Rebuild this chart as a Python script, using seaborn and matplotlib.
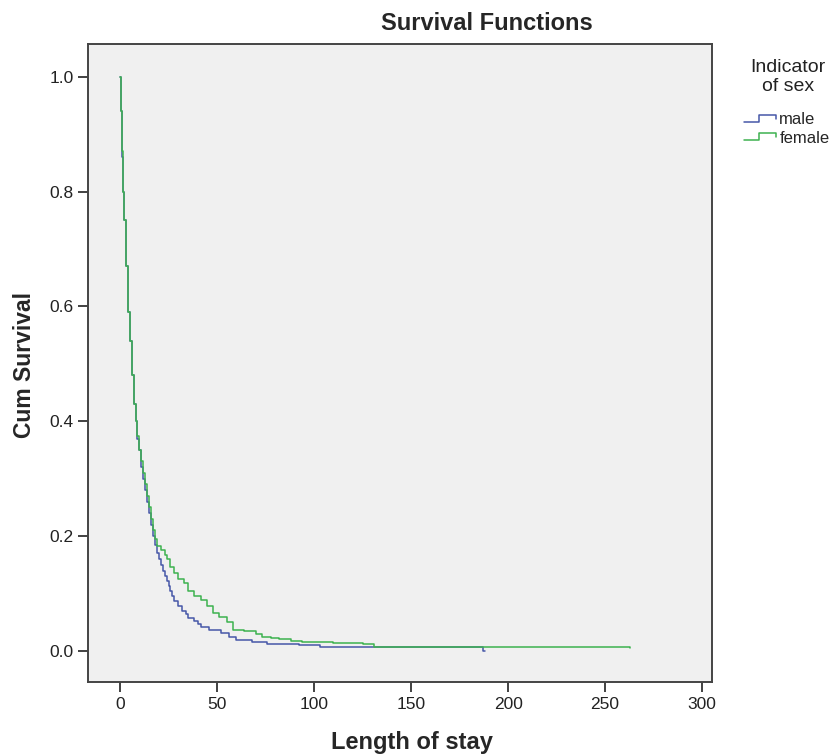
import numpy as np
import pandas as pd
import seaborn as sns
import matplotlib
matplotlib.use("Agg")
import matplotlib.pyplot as plt
from matplotlib.lines import Line2D
from matplotlib.legend_handler import HandlerLine2D

# Kaplan-Meier step values
male_time = [0, 0.5, 1, 1.5, 2, 3, 4, 5, 6, 7, 8, 9, 10, 11, 12, 13, 14, 15, 16,
             17, 18, 19, 20, 21, 22, 23, 24, 25, 26, 27, 28, 30, 32, 34, 35, 38,
             40, 42, 46, 52, 56, 60, 68, 76, 92, 103, 187, 188]
male_surv = [1.0, 0.94, 0.86, 0.80, 0.75, 0.67, 0.59, 0.54, 0.48, 0.43, 0.40,
             0.37, 0.35, 0.32, 0.30, 0.28, 0.26, 0.24, 0.22, 0.20, 0.185, 0.17,
             0.16, 0.15, 0.14, 0.13, 0.122, 0.113, 0.105, 0.095, 0.087, 0.078,
             0.07, 0.064, 0.058, 0.053, 0.047, 0.042, 0.036, 0.031, 0.025,
             0.019, 0.016, 0.013, 0.010, 0.0075, 0.0, 0.0]

female_time = [0, 0.5, 1, 1.5, 2, 3, 4, 5, 6, 7, 8, 9, 10, 11, 12, 13, 14, 15,
               16, 17, 18, 19, 21, 23, 24, 26, 28, 30, 33, 35, 38, 42, 45, 48,
               51, 55, 58, 64, 70, 73, 78, 82, 88, 94, 110, 125, 131, 263]
female_surv = [1.0, 0.94, 0.87, 0.80, 0.75, 0.67, 0.59, 0.54, 0.48, 0.43, 0.40,
               0.375, 0.35, 0.33, 0.31, 0.29, 0.27, 0.25, 0.23, 0.21, 0.195,
               0.182, 0.176, 0.168, 0.16, 0.147, 0.135, 0.125, 0.118, 0.105,
               0.095, 0.089, 0.078, 0.066, 0.06, 0.05, 0.037, 0.034, 0.03,
               0.025, 0.022, 0.02, 0.018, 0.016, 0.014, 0.013, 0.0075, 0.0055]

groups = ["male", "female"]
colors = {"male": "#4657A8", "female": "#3DB24F"}

df = pd.concat([
    pd.DataFrame({"time": male_time, "surv": male_surv, "sex": "male"}),
    pd.DataFrame({"time": female_time, "surv": female_surv, "sex": "female"}),
])

sns.set_style("white")
plt.rcParams["font.family"] = ["Liberation Sans", "DejaVu Sans"]

fig = plt.figure(figsize=(8.34, 7.55), dpi=100)
ax = fig.add_axes([0.1055, 0.0967, 0.748, 0.845])
ax.set_facecolor("#F0F0F0")

sns.lineplot(data=df, x="time", y="surv", hue="sex", hue_order=groups,
             palette=colors, estimator=None, sort=False,
             drawstyle="steps-post", linewidth=1.1, legend=False, ax=ax)

ax.set_xlim(-16.5, 305)
ax.set_ylim(-0.054, 1.057)
ax.set_xticks([0, 50, 100, 150, 200, 250, 300])
ax.set_yticks([0.0, 0.2, 0.4, 0.6, 0.8, 1.0])
ax.set_yticklabels(["0.0", "0.2", "0.4", "0.6", "0.8", "1.0"])
ax.tick_params(direction="out", length=7, width=1.3, color="#333333",
               labelsize=12.5, labelcolor="#222222", left=True, bottom=True)
for s in ax.spines.values():
    s.set_color("#444444")
    s.set_linewidth(1.4)

ax.set_xlabel("Length of stay", fontsize=17, fontweight="bold", va="center")
ax.set_ylabel("Cum Survival", fontsize=16.5, fontweight="bold", va="center")
ax.xaxis.set_label_coords(0.519, -0.0956)
ax.yaxis.set_label_coords(-0.101, 0.497)
fig.text(0.584, 0.969, "Survival Functions", ha="center", va="center",
         fontsize=17, fontweight="bold")

# legend title sits apart from the entries, like SPSS does it
fig.text(788 / 834, 1 - 77 / 755, "Indicator\nof sex", ha="center",
         va="center", multialignment="center", fontsize=14, linespacing=1.15,
         color="#222222")


class StepHandler(HandlerLine2D):
    def create_artists(self, legend, orig_handle, xdescent, ydescent,
                       width, height, fontsize, trans):
        xs = np.array([0, 0.45, 0.45, 0.95, 0.95]) * width - xdescent
        ys = np.array([0.2, 0.2, 0.8, 0.8, 0.45]) * height - ydescent
        ln = Line2D(xs, ys, color=orig_handle.get_color(), linewidth=1.1,
                    transform=trans)
        return [ln]


handles = [Line2D([], [], color=colors[g]) for g in groups]
leg = fig.legend(handles, groups, loc="upper left",
                 bbox_to_anchor=(736 / 834, 1 - 104 / 755),
                 frameon=False, fontsize=12, borderpad=0,
                 handlelength=2.0, handletextpad=0.1, labelspacing=0.2,
                 handler_map={Line2D: StepHandler()})

fig.savefig("out.png", dpi=100, facecolor="white")
